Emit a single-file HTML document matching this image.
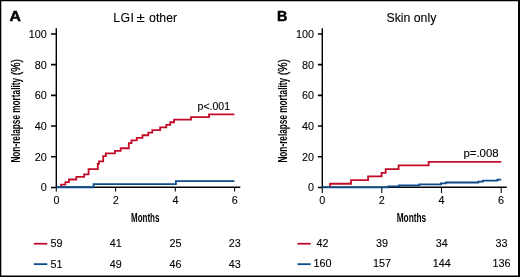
<!DOCTYPE html>
<html lang="en"><head><meta charset="utf-8"><title>Non-relapse mortality</title>
<style>
html,body{margin:0;padding:0;background:#fff;}
body{width:520px;height:277px;overflow:hidden;}
svg{display:block;}
text{font-family:"Liberation Sans",Arial,Helvetica,sans-serif;fill:#000;stroke:#000;stroke-width:.1px;}
.n{font-size:10.8px;}
.m{font-size:10.1px;}
.t{font-size:12.3px;}
.c{font-size:12px;font-weight:bold;stroke:none;}
.p{font-size:15.1px;font-weight:bold;stroke-width:.5px;}
</style></head><body>
<svg width="520" height="277" viewBox="0 0 520 277">
<rect x="0" y="0" width="520" height="277" fill="#fff"/>
<path d="M0,0H520V277H0Z M1.3,1.2V275.5H518.0V1.2Z" fill="#000" fill-rule="evenodd"/>
<text class="p" transform="translate(9.4,21.35) scale(1.05,1)">A</text>
<g><text class="t" x="113.2" y="22.1" letter-spacing=".4px">LGI</text> <text class="t" transform="translate(136.5,22.1) scale(1.22,1)">±</text> <text class="t" x="149.1" y="22.1">other</text></g>
<path d="M56.3,28.2V187.3H240.3" fill="none" stroke="#000" stroke-width="1.4"/>
<path d="M51.00,187.45H56.3M51.00,156.75H56.3M51.00,126.05H56.3M51.00,95.35H56.3M51.00,64.65H56.3M51.00,33.95H56.3" fill="none" stroke="#000" stroke-width="1.6"/>
<path d="M56.3,187.3V191.6M115.6,187.3V191.6M175.3,187.3V191.6M234.6,187.3V191.6" fill="none" stroke="#000" stroke-width="1.05"/>
<text class="n" x="46.70" y="191.35" text-anchor="end">0</text>
<text class="n" x="46.70" y="160.65" text-anchor="end">20</text>
<text class="n" x="46.70" y="129.95" text-anchor="end">40</text>
<text class="n" x="46.70" y="99.25" text-anchor="end">60</text>
<text class="n" x="46.70" y="68.55" text-anchor="end">80</text>
<text class="n" x="46.70" y="37.85" text-anchor="end">100</text>
<text class="n" x="56.45" y="203.9" text-anchor="middle">0</text>
<text class="n" x="115.75" y="203.9" text-anchor="middle">2</text>
<text class="n" x="175.45" y="203.9" text-anchor="middle">4</text>
<text class="n" x="234.75" y="203.9" text-anchor="middle">6</text>
<text class="c" style="font-size:12px" transform="translate(145.2,221.6) scale(0.665,1)" text-anchor="middle">Months</text>
<g transform="translate(20.0,0) rotate(-90)"><text class="c" transform="translate(-162.6,0) scale(0.687,1)">Non-relapse mortality</text><text class="c" style="font-weight:normal;stroke:#000;stroke-width:.35px" transform="translate(-75.3,0) scale(0.87,1)">(%)</text></g>
<path d="M61.10,187.00H61.10V184.70H65.40V182.10H69.00V179.49H76.30V176.89H84.10V174.29H88.60V169.09H97.80V163.88H99.00V161.28H103.20V156.08H105.80V153.47H114.90V150.87H120.70V148.27H128.80V143.07H131.50V140.46H136.80V137.86H142.50V135.26H148.30V132.66H152.30V130.06H160.20V127.45H166.30V124.85H170.30V122.25H174.10V119.65H191.00V117.05H209.00V114.44H234.40" fill="none" stroke="#c20b29" stroke-width="1.8"/>
<path d="M56.30,187.25H93.60V184.20H175.90V181.20H234.40" fill="none" stroke="#0c4b8a" stroke-width="1.8"/>
<text class="n" style="font-size:10.5px" transform="translate(197.6,109.65) scale(1.0,1)">p&lt;.001</text>
<path d="M33.8,243.75h13.5" stroke="#c20b29" stroke-width="1.8" fill="none"/>
<path d="M33.8,264.15h13.5" stroke="#0c4b8a" stroke-width="1.8" fill="none"/>
<text class="m" transform="translate(56.40,247.3) scale(1.07,1)" text-anchor="middle">59</text>
<text class="m" transform="translate(56.40,267.8) scale(1.07,1)" text-anchor="middle">51</text>
<text class="m" transform="translate(115.70,247.3) scale(1.07,1)" text-anchor="middle">41</text>
<text class="m" transform="translate(115.70,267.8) scale(1.07,1)" text-anchor="middle">49</text>
<text class="m" transform="translate(175.40,247.3) scale(1.07,1)" text-anchor="middle">25</text>
<text class="m" transform="translate(175.40,267.8) scale(1.07,1)" text-anchor="middle">46</text>
<text class="m" transform="translate(234.70,247.3) scale(1.07,1)" text-anchor="middle">23</text>
<text class="m" transform="translate(234.70,267.8) scale(1.07,1)" text-anchor="middle">43</text>
<text class="p" transform="translate(277.05,21.35) scale(0.95,1)">B</text>
<text class="t" x="411.4" y="22.1" text-anchor="middle">Skin only</text>
<path d="M322.3,28.2V187.3H506.8" fill="none" stroke="#000" stroke-width="1.4"/>
<path d="M317.90,187.45H322.3M317.90,156.75H322.3M317.90,126.05H322.3M317.90,95.35H322.3M317.90,64.65H322.3M317.90,33.95H322.3" fill="none" stroke="#000" stroke-width="1.6"/>
<path d="M322.3,187.3V192.9M381.8,187.3V192.9M441.5,187.3V192.9M501.2,187.3V192.9" fill="none" stroke="#000" stroke-width="1.05"/>
<text class="n" x="314.10" y="191.35" text-anchor="end">0</text>
<text class="n" x="314.10" y="160.65" text-anchor="end">20</text>
<text class="n" x="314.10" y="129.95" text-anchor="end">40</text>
<text class="n" x="314.10" y="99.25" text-anchor="end">60</text>
<text class="n" x="314.10" y="68.55" text-anchor="end">80</text>
<text class="n" x="314.10" y="37.85" text-anchor="end">100</text>
<text class="n" x="322.20" y="203.9" text-anchor="middle">0</text>
<text class="n" x="381.70" y="203.9" text-anchor="middle">2</text>
<text class="n" x="441.40" y="203.9" text-anchor="middle">4</text>
<text class="n" x="501.10" y="203.9" text-anchor="middle">6</text>
<text class="c" style="font-size:12.7px" transform="translate(411.4,221.6) scale(0.655,1)" text-anchor="middle">Months</text>
<g transform="translate(286.8,0) rotate(-90)"><text class="c" transform="translate(-162.6,0) scale(0.687,1)">Non-relapse mortality</text><text class="c" style="font-weight:normal;stroke:#000;stroke-width:.35px" transform="translate(-75.3,0) scale(0.87,1)">(%)</text></g>
<path d="M330.10,187.00H330.10V183.75H351.00V180.09H368.10V176.44H381.60V172.78H385.70V169.12H398.60V165.47H428.60V161.81H501.20" fill="none" stroke="#c20b29" stroke-width="1.8"/>
<path d="M322.30,187.30H388.30V186.34H399.00V185.38H419.30V184.42H440.90V183.46H445.90V182.50H478.40V181.54H482.80V180.58H497.40V179.62H501.20" fill="none" stroke="#0c4b8a" stroke-width="1.8"/>
<text class="n" style="font-size:10.5px" transform="translate(463.4,156.6) scale(1.09,1)">p=.008</text>
<path d="M297.5,243.75h13.2" stroke="#c20b29" stroke-width="1.8" fill="none"/>
<path d="M297.5,264.15h13.2" stroke="#0c4b8a" stroke-width="1.8" fill="none"/>
<text class="m" transform="translate(322.60,247.3) scale(1.07,1)" text-anchor="middle">42</text>
<text class="m" transform="translate(322.60,267.45) scale(1.07,1)" text-anchor="middle">160</text>
<text class="m" transform="translate(382.10,247.3) scale(1.07,1)" text-anchor="middle">39</text>
<text class="m" transform="translate(382.10,267.45) scale(1.07,1)" text-anchor="middle">157</text>
<text class="m" transform="translate(441.80,247.3) scale(1.07,1)" text-anchor="middle">34</text>
<text class="m" transform="translate(441.80,267.45) scale(1.07,1)" text-anchor="middle">144</text>
<text class="m" transform="translate(501.50,247.3) scale(1.07,1)" text-anchor="middle">33</text>
<text class="m" transform="translate(501.50,267.45) scale(1.07,1)" text-anchor="middle">136</text>
</svg>
</body></html>
